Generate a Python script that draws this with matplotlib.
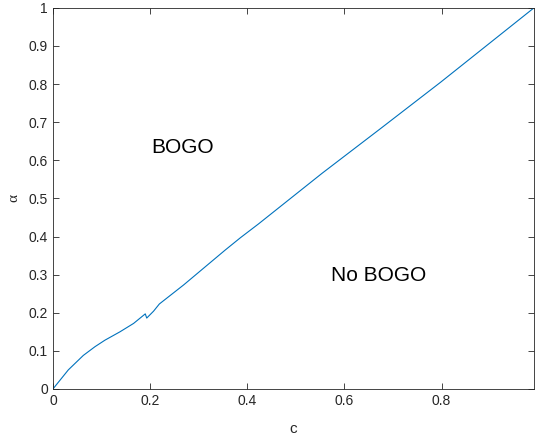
import numpy as np
import matplotlib
matplotlib.use("Agg")
import matplotlib.pyplot as plt

# boundary curve
c_vals = [0, 0.0316, 0.0625, 0.0866, 0.107, 0.138, 0.166, 0.190, 0.193, 0.207,
          0.219, 0.269, 0.355, 0.386, 0.423, 0.554, 0.674, 0.798, 0.99]
alpha_vals = [0, 0.050, 0.088, 0.111, 0.128, 0.150, 0.172, 0.197, 0.186, 0.204,
              0.223, 0.273, 0.365, 0.397, 0.433, 0.566, 0.683, 0.805, 1.0]

x_ticks = [0, 0.2, 0.4, 0.6, 0.8]
y_ticks = [0, 0.1, 0.2, 0.3, 0.4, 0.5, 0.6, 0.7, 0.8, 0.9, 1]
region_labels = ["BOGO", "No BOGO"]

plt.rcParams['font.family'] = ['Liberation Sans', 'DejaVu Sans']
axcol = (0.15, 0.15, 0.15)

fig = plt.figure(figsize=(5.35, 4.38), dpi=100)
ax = fig.add_axes([0.099, 0.112, 0.899, 0.870])

ax.plot(c_vals, alpha_vals, color='#0072BD', lw=0.8)

ax.set_xlim(0, 0.99)
ax.set_ylim(0, 1)
ax.set_xticks(x_ticks)
ax.set_xticklabels(["0", "0.2", "0.4", "0.6", "0.8"])
ax.set_yticks(y_ticks)
ax.set_yticklabels(["0", "0.1", "0.2", "0.3", "0.4", "0.5", "0.6", "0.7", "0.8", "0.9", "1"])
ax.tick_params(direction='in', length=4, width=0.6, colors=axcol, labelsize=10,
               top=True, right=True, labelcolor=axcol)
for s in ax.spines.values():
    s.set_color(axcol)
    s.set_linewidth(0.6)

ax.set_xlabel("c", fontsize=11, color=axcol, labelpad=10)
ax.set_ylabel("α", fontsize=11, color=axcol, family=['Liberation Serif', 'DejaVu Serif'], labelpad=6)

ax.text(0.202, 0.633, region_labels[0], fontsize=15, va='center', ha='left')
ax.text(0.573, 0.297, region_labels[1], fontsize=15, va='center', ha='left')

fig.savefig("out.png", dpi=100)
